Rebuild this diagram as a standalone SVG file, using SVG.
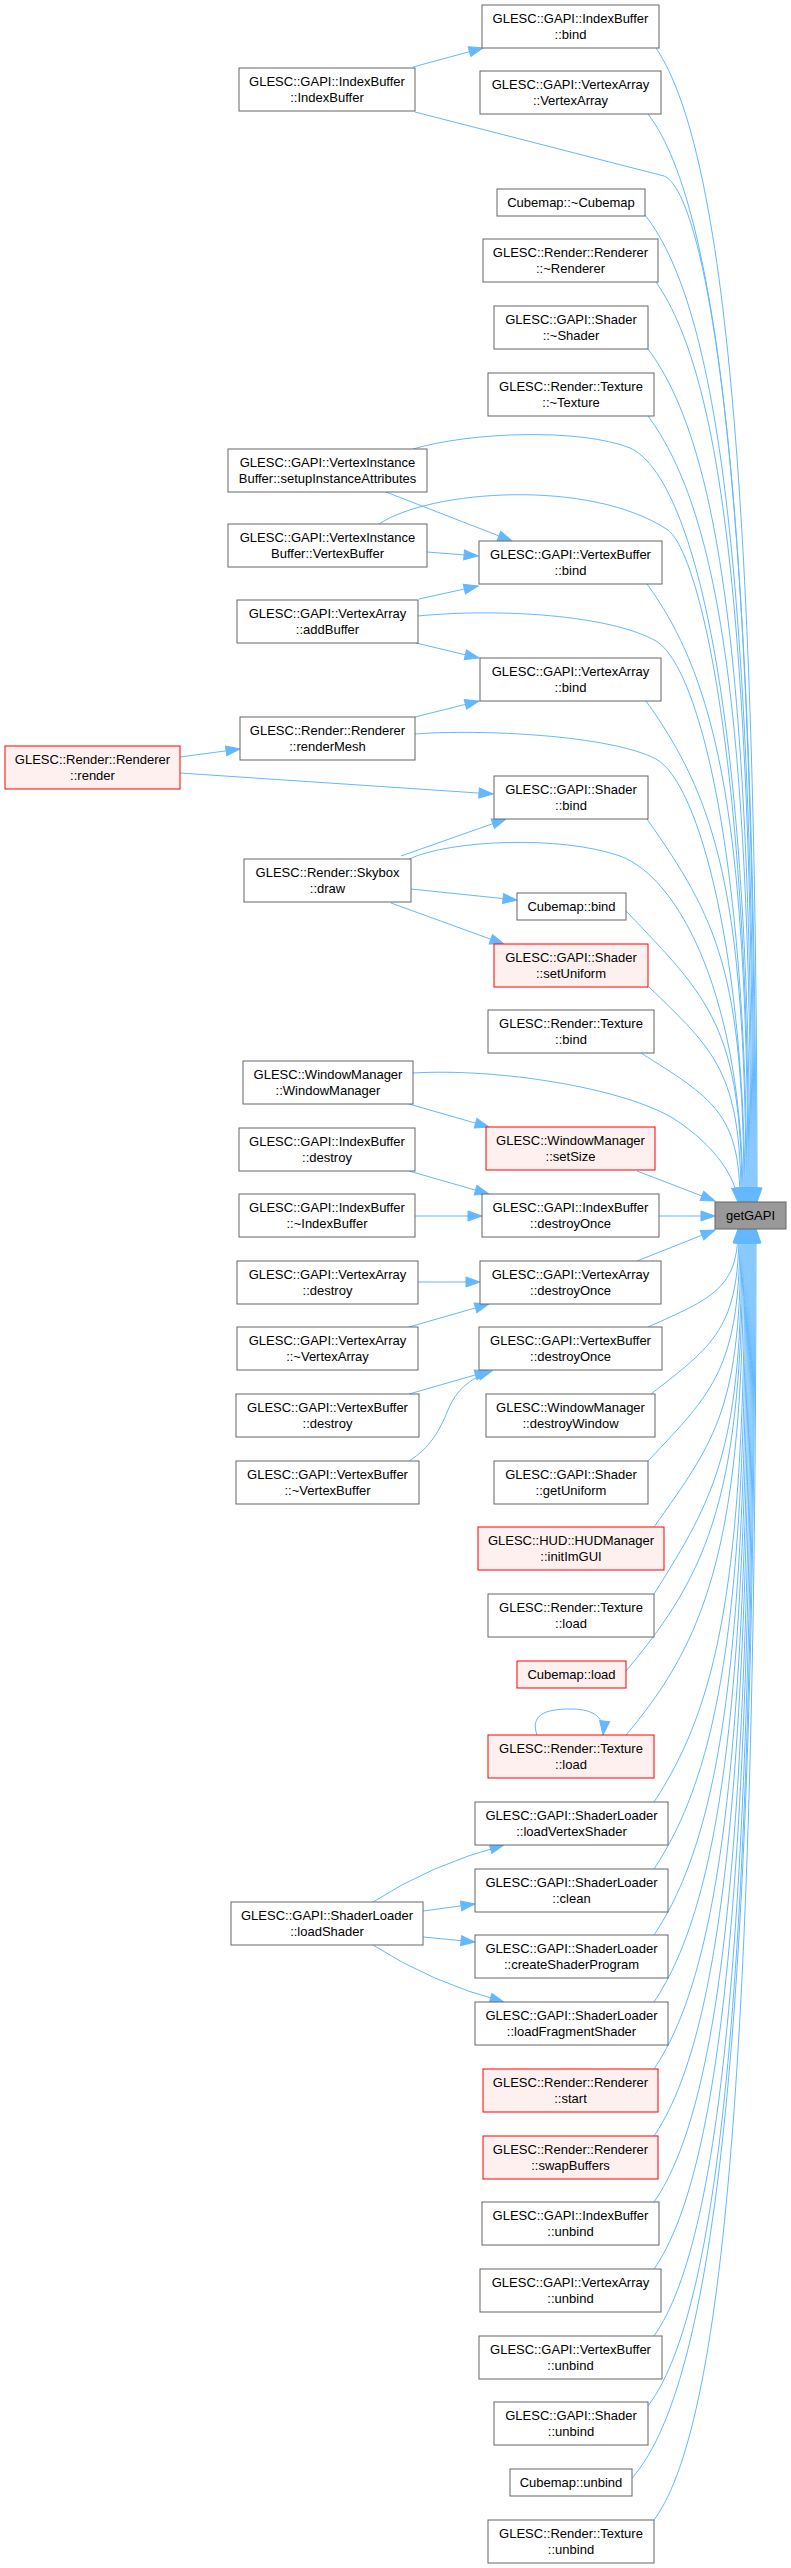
<svg xmlns="http://www.w3.org/2000/svg" width="791" height="2568" viewBox="0 0 791 2568">
<style>
.n rect{fill:#fff;stroke:#666;stroke-width:1}
.r rect{fill:#fff0f0;stroke:#f00;stroke-width:1}
.g rect{fill:#999;stroke:#666;stroke-width:1}
text{font-family:"Liberation Sans",Arial,Helvetica,sans-serif;font-size:13px;text-anchor:middle;fill:#000}
.e path{fill:none;stroke:#63b8ff;stroke-width:1;marker-end:url(#a)}
</style>
<defs>
<marker id="a" viewBox="0 0 14 10" refX="14" refY="5" markerWidth="14" markerHeight="10" markerUnits="userSpaceOnUse" orient="auto" overflow="visible"><path d="M0,0 L14,5 L0,10 z" fill="#63b8ff" stroke="#63b8ff"/></marker>
</defs>
<rect width="791" height="2568" fill="#fff"/>
<g id="edges" class="e">
<path d="M413,67 L483,48"/>
<path d="M386,492 L512,541"/>
<path d="M427,552 L478,556"/>
<path d="M419,599 L478,586"/>
<path d="M416,643 L479,658"/>
<path d="M415,717 L479,701"/>
<path d="M180,757 L240,749"/>
<path d="M180,773 L493,794"/>
<path d="M401,856 L506,819"/>
<path d="M411,889 L517,900"/>
<path d="M391,903 L504,944"/>
<path d="M409,1104 L489,1127"/>
<path d="M409,1171 L489,1194"/>
<path d="M415,1216 L482,1216"/>
<path d="M418,1282 L480,1282"/>
<path d="M409,1327 L489,1304"/>
<path d="M409,1394 L489,1371"/>
<path d="M409,1461 C430,1448 440,1430 448,1410 C456,1390 470,1378 492,1371"/>
<path d="M373,1902 Q430,1865 504,1845"/>
<path d="M423,1911 L475,1904"/>
<path d="M423,1937 L475,1942"/>
<path d="M373,1945 Q430,1982 504,2002"/>
<path d="M637,1171 L715,1201"/>
<path d="M659,1216 L715,1216"/>
<path d="M637,1261 L715,1230"/>
<path d="M537,1735 C530,1715 545,1709 570,1709 C595,1709 605,1718 603,1735"/>
<path d="M656,48 C726,152 757,510 757,1202"/>
<path d="M415,112 L664,176 C700,190 756,420 756,1202"/>
<path d="M648,114 C722,210 755,560 755,1202"/>
<path d="M645,215 C723,314 754,609 754,1202"/>
<path d="M656,282 C726,382 753,650 753,1202"/>
<path d="M648,349 C723,449 752,690 752,1202"/>
<path d="M648,416 C722,516 751,730 751,1202"/>
<path d="M413,449 C470,432 580,428 630,448 C680,470 750,640 750,1202"/>
<path d="M379,524 C430,490 590,478 668,530 C700,555 749,760 749,1202"/>
<path d="M647,584 C720,684 748,831 748,1202"/>
<path d="M418,616 C500,608 610,615 656,641 C700,668 747,860 747,1202"/>
<path d="M646,701 C718,801 746,901 746,1202"/>
<path d="M415,734 C480,729 610,735 656,759 C700,783 745,960 745,1202"/>
<path d="M647,819 C717,919 744,972 744,1202"/>
<path d="M409,859 C450,840 560,835 620,856 C680,878 743,1000 743,1202"/>
<path d="M626,911 C709,998 742,1027 742,1202"/>
<path d="M649,987 C715,1051 741,1072 741,1202"/>
<path d="M641,1053 C712,1098 740,1113 740,1202"/>
<path d="M413,1073 C500,1068 620,1088 671,1117 C705,1138 735,1170 738,1202"/>
<path d="M648,1327 C713,1298 738,1288 738,1229"/>
<path d="M651,1394 C714,1345 739,1328 739,1229"/>
<path d="M648,1461 C714,1391 740,1368 740,1229"/>
<path d="M654,1527 C717,1438 741,1408 741,1229"/>
<path d="M654,1594 C717,1494 742,1448 742,1229"/>
<path d="M626,1671 C710,1571 743,1494 743,1229"/>
<path d="M626,1735 C711,1635 744,1533 744,1229"/>
<path d="M654,1802 C720,1702 745,1573 745,1229"/>
<path d="M654,1869 C720,1769 746,1613 746,1229"/>
<path d="M654,1935 C721,1835 747,1653 747,1229"/>
<path d="M654,2002 C721,1902 748,1693 748,1229"/>
<path d="M654,2069 C722,1969 749,1733 749,1229"/>
<path d="M654,2136 C722,2036 750,1773 750,1229"/>
<path d="M654,2202 C724,2102 751,1813 751,1229"/>
<path d="M654,2269 C724,2169 752,1853 752,1229"/>
<path d="M654,2336 C725,2236 753,1893 753,1229"/>
<path d="M648,2406 C724,2306 754,1935 754,1229"/>
<path d="M632,2478 C721,2378 755,1978 755,1229"/>
<path d="M654,2520 C728,2420 756,2004 756,1229"/>
</g>
<g id="n1" class="n"><rect x="482" y="5" width="177" height="43"/><text><tspan x="570.5" y="23.4">GLESC::GAPI::IndexBuffer</tspan><tspan x="570.5" y="39">::bind</tspan></text></g>
<g id="n2" class="n"><rect x="239" y="68" width="176" height="43"/><text><tspan x="327" y="86.4">GLESC::GAPI::IndexBuffer</tspan><tspan x="327" y="102">::IndexBuffer</tspan></text></g>
<g id="n3" class="n"><rect x="480" y="71" width="181" height="43"/><text><tspan x="570.5" y="89.4">GLESC::GAPI::VertexArray</tspan><tspan x="570.5" y="105">::VertexArray</tspan></text></g>
<g id="n4" class="n"><rect x="497" y="189" width="148" height="27"/><text x="571" y="207">Cubemap::~Cubemap</text></g>
<g id="n5" class="n"><rect x="483" y="239" width="175" height="43"/><text><tspan x="570.5" y="257.4">GLESC::Render::Renderer</tspan><tspan x="570.5" y="273">::~Renderer</tspan></text></g>
<g id="n6" class="n"><rect x="494" y="306" width="154" height="43"/><text><tspan x="571" y="324.4">GLESC::GAPI::Shader</tspan><tspan x="571" y="340">::~Shader</tspan></text></g>
<g id="n7" class="n"><rect x="488" y="373" width="166" height="43"/><text><tspan x="571" y="391.4">GLESC::Render::Texture</tspan><tspan x="571" y="407">::~Texture</tspan></text></g>
<g id="n8" class="n"><rect x="228" y="449" width="199" height="43"/><text><tspan x="327.5" y="467.4">GLESC::GAPI::VertexInstance</tspan><tspan x="327.5" y="483">Buffer::setupInstanceAttributes</tspan></text></g>
<g id="n9" class="n"><rect x="228" y="524" width="199" height="43"/><text><tspan x="327.5" y="542.4">GLESC::GAPI::VertexInstance</tspan><tspan x="327.5" y="558">Buffer::VertexBuffer</tspan></text></g>
<g id="n10" class="n"><rect x="479" y="541" width="183" height="43"/><text><tspan x="570.5" y="559.4">GLESC::GAPI::VertexBuffer</tspan><tspan x="570.5" y="575">::bind</tspan></text></g>
<g id="n11" class="n"><rect x="237" y="600" width="181" height="43"/><text><tspan x="327.5" y="618.4">GLESC::GAPI::VertexArray</tspan><tspan x="327.5" y="634">::addBuffer</tspan></text></g>
<g id="n12" class="n"><rect x="480" y="658" width="181" height="43"/><text><tspan x="570.5" y="676.4">GLESC::GAPI::VertexArray</tspan><tspan x="570.5" y="692">::bind</tspan></text></g>
<g id="n13" class="n"><rect x="240" y="717" width="175" height="43"/><text><tspan x="327.5" y="735.4">GLESC::Render::Renderer</tspan><tspan x="327.5" y="751">::renderMesh</tspan></text></g>
<g id="n14" class="r"><rect x="5" y="746" width="175" height="43"/><text><tspan x="92.5" y="764.4">GLESC::Render::Renderer</tspan><tspan x="92.5" y="780">::render</tspan></text></g>
<g id="n15" class="n"><rect x="494" y="776" width="154" height="43"/><text><tspan x="571" y="794.4">GLESC::GAPI::Shader</tspan><tspan x="571" y="810">::bind</tspan></text></g>
<g id="n16" class="n"><rect x="244" y="859" width="167" height="43"/><text><tspan x="327.5" y="877.4">GLESC::Render::Skybox</tspan><tspan x="327.5" y="893">::draw</tspan></text></g>
<g id="n17" class="n"><rect x="517" y="893" width="109" height="27"/><text x="571.5" y="911">Cubemap::bind</text></g>
<g id="n18" class="r"><rect x="494" y="944" width="154" height="43"/><text><tspan x="571" y="962.4">GLESC::GAPI::Shader</tspan><tspan x="571" y="978">::setUniform</tspan></text></g>
<g id="n19" class="n"><rect x="488" y="1010" width="166" height="43"/><text><tspan x="571" y="1028.4">GLESC::Render::Texture</tspan><tspan x="571" y="1044">::bind</tspan></text></g>
<g id="n20" class="n"><rect x="243" y="1061" width="170" height="43"/><text><tspan x="328" y="1079.4">GLESC::WindowManager</tspan><tspan x="328" y="1095">::WindowManager</tspan></text></g>
<g id="n21" class="r"><rect x="486" y="1127" width="169" height="43"/><text><tspan x="570.5" y="1145.4">GLESC::WindowManager</tspan><tspan x="570.5" y="1161">::setSize</tspan></text></g>
<g id="n22" class="n"><rect x="239" y="1128" width="176" height="43"/><text><tspan x="327" y="1146.4">GLESC::GAPI::IndexBuffer</tspan><tspan x="327" y="1162">::destroy</tspan></text></g>
<g id="n23" class="n"><rect x="239" y="1194" width="176" height="43"/><text><tspan x="327" y="1212.4">GLESC::GAPI::IndexBuffer</tspan><tspan x="327" y="1228">::~IndexBuffer</tspan></text></g>
<g id="n24" class="n"><rect x="482" y="1194" width="177" height="43"/><text><tspan x="570.5" y="1212.4">GLESC::GAPI::IndexBuffer</tspan><tspan x="570.5" y="1228">::destroyOnce</tspan></text></g>
<g id="n25" class="g"><rect x="715" y="1202" width="71" height="27"/><text x="750.5" y="1220">getGAPI</text></g>
<g id="n26" class="n"><rect x="237" y="1261" width="181" height="43"/><text><tspan x="327.5" y="1279.4">GLESC::GAPI::VertexArray</tspan><tspan x="327.5" y="1295">::destroy</tspan></text></g>
<g id="n27" class="n"><rect x="480" y="1261" width="181" height="43"/><text><tspan x="570.5" y="1279.4">GLESC::GAPI::VertexArray</tspan><tspan x="570.5" y="1295">::destroyOnce</tspan></text></g>
<g id="n28" class="n"><rect x="237" y="1327" width="181" height="43"/><text><tspan x="327.5" y="1345.4">GLESC::GAPI::VertexArray</tspan><tspan x="327.5" y="1361">::~VertexArray</tspan></text></g>
<g id="n29" class="n"><rect x="479" y="1327" width="183" height="43"/><text><tspan x="570.5" y="1345.4">GLESC::GAPI::VertexBuffer</tspan><tspan x="570.5" y="1361">::destroyOnce</tspan></text></g>
<g id="n30" class="n"><rect x="236" y="1394" width="183" height="43"/><text><tspan x="327.5" y="1412.4">GLESC::GAPI::VertexBuffer</tspan><tspan x="327.5" y="1428">::destroy</tspan></text></g>
<g id="n31" class="n"><rect x="486" y="1394" width="169" height="43"/><text><tspan x="570.5" y="1412.4">GLESC::WindowManager</tspan><tspan x="570.5" y="1428">::destroyWindow</tspan></text></g>
<g id="n32" class="n"><rect x="236" y="1461" width="183" height="43"/><text><tspan x="327.5" y="1479.4">GLESC::GAPI::VertexBuffer</tspan><tspan x="327.5" y="1495">::~VertexBuffer</tspan></text></g>
<g id="n33" class="n"><rect x="494" y="1461" width="154" height="43"/><text><tspan x="571" y="1479.4">GLESC::GAPI::Shader</tspan><tspan x="571" y="1495">::getUniform</tspan></text></g>
<g id="n34" class="r"><rect x="478" y="1527" width="186" height="43"/><text><tspan x="571" y="1545.4">GLESC::HUD::HUDManager</tspan><tspan x="571" y="1561">::initImGUI</tspan></text></g>
<g id="n35" class="n"><rect x="488" y="1594" width="166" height="43"/><text><tspan x="571" y="1612.4">GLESC::Render::Texture</tspan><tspan x="571" y="1628">::load</tspan></text></g>
<g id="n36" class="r"><rect x="517" y="1661" width="109" height="27"/><text x="571.5" y="1679">Cubemap::load</text></g>
<g id="n37" class="r"><rect x="488" y="1735" width="166" height="43"/><text><tspan x="571" y="1753.4">GLESC::Render::Texture</tspan><tspan x="571" y="1769">::load</tspan></text></g>
<g id="n38" class="n"><rect x="475" y="1802" width="193" height="43"/><text><tspan x="571.5" y="1820.4">GLESC::GAPI::ShaderLoader</tspan><tspan x="571.5" y="1836">::loadVertexShader</tspan></text></g>
<g id="n39" class="n"><rect x="475" y="1869" width="193" height="43"/><text><tspan x="571.5" y="1887.4">GLESC::GAPI::ShaderLoader</tspan><tspan x="571.5" y="1903">::clean</tspan></text></g>
<g id="n40" class="n"><rect x="231" y="1902" width="192" height="43"/><text><tspan x="327" y="1920.4">GLESC::GAPI::ShaderLoader</tspan><tspan x="327" y="1936">::loadShader</tspan></text></g>
<g id="n41" class="n"><rect x="475" y="1935" width="193" height="43"/><text><tspan x="571.5" y="1953.4">GLESC::GAPI::ShaderLoader</tspan><tspan x="571.5" y="1969">::createShaderProgram</tspan></text></g>
<g id="n42" class="n"><rect x="475" y="2002" width="193" height="43"/><text><tspan x="571.5" y="2020.4">GLESC::GAPI::ShaderLoader</tspan><tspan x="571.5" y="2036">::loadFragmentShader</tspan></text></g>
<g id="n43" class="r"><rect x="483" y="2069" width="175" height="43"/><text><tspan x="570.5" y="2087.4">GLESC::Render::Renderer</tspan><tspan x="570.5" y="2103">::start</tspan></text></g>
<g id="n44" class="r"><rect x="483" y="2136" width="175" height="43"/><text><tspan x="570.5" y="2154.4">GLESC::Render::Renderer</tspan><tspan x="570.5" y="2170">::swapBuffers</tspan></text></g>
<g id="n45" class="n"><rect x="482" y="2202" width="177" height="43"/><text><tspan x="570.5" y="2220.4">GLESC::GAPI::IndexBuffer</tspan><tspan x="570.5" y="2236">::unbind</tspan></text></g>
<g id="n46" class="n"><rect x="480" y="2269" width="181" height="43"/><text><tspan x="570.5" y="2287.4">GLESC::GAPI::VertexArray</tspan><tspan x="570.5" y="2303">::unbind</tspan></text></g>
<g id="n47" class="n"><rect x="479" y="2336" width="183" height="43"/><text><tspan x="570.5" y="2354.4">GLESC::GAPI::VertexBuffer</tspan><tspan x="570.5" y="2370">::unbind</tspan></text></g>
<g id="n48" class="n"><rect x="494" y="2402" width="154" height="43"/><text><tspan x="571" y="2420.4">GLESC::GAPI::Shader</tspan><tspan x="571" y="2436">::unbind</tspan></text></g>
<g id="n49" class="n"><rect x="510" y="2469" width="122" height="27"/><text x="571" y="2487">Cubemap::unbind</text></g>
<g id="n50" class="n"><rect x="488" y="2520" width="166" height="43"/><text><tspan x="571" y="2538.4">GLESC::Render::Texture</tspan><tspan x="571" y="2554">::unbind</tspan></text></g>
</svg>
